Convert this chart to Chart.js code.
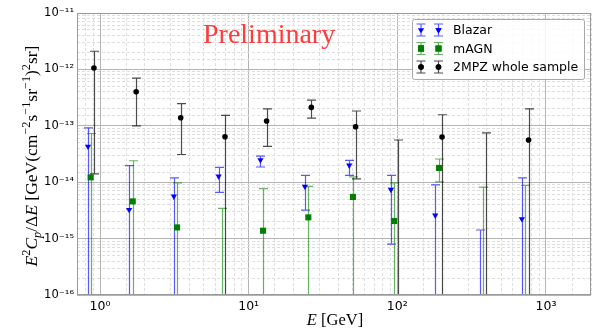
<!DOCTYPE html>
<html>
<head>
<meta charset="utf-8">
<script src="https://cdn.jsdelivr.net/npm/chart.js@4.4.1/dist/chart.umd.min.js"></script>
<style>
  html, body { margin: 0; padding: 0; background: #fff; }
  #wrap { width: 598px; height: 334px; }
</style>
</head>
<body>
<div id="wrap"><canvas id="spectrum" width="598" height="334"></canvas></div>
<script>
// energies (GeV), values and error bar limits; 0 as lower limit = bar runs off the bottom,
// null value = point not on the log axis (only the upper bar is seen)
const energyBlazar = [0.83, 1.57, 3.14, 6.28, 12.0, 23.9, 47.5, 90.6, 180, 361, 689];
const blazarVal = [4.3e-14, 3.25e-15, 5.6e-15, 1.27e-14, 2.48e-14, 8.4e-15, 1.99e-14, 7.4e-15, 2.58e-15, null, 2.23e-15];
const blazarHi = [9.2e-14, 1.96e-14, 1.19e-14, 1.83e-14, 2.9e-14, 1.32e-14, 2.44e-14, 1.32e-14, 9.0e-15, 1.42e-15, 1.19e-14];
const blazarLo = [0, 0, 0, 6.6e-15, 1.86e-14, 3.2e-15, 1.32e-14, 8.0e-16, 0, 0, 0];

const energyMagn = [0.865, 1.66, 3.30, 6.61, 12.5, 25.2, 50.3, 95.3, 191, 378, 724];
const magnVal = [1.22e-14, 4.57e-15, 1.58e-15, null, 1.38e-15, 2.38e-15, 5.47e-15, 2.05e-15, 1.79e-14, null, null];
const magnHi = [7.3e-14, 2.4e-14, 9.7e-15, 3.43e-15, 7.7e-15, 8.4e-15, 1.24e-14, 9.7e-15, 2.58e-14, 8.2e-15, 8.8e-15];
const magnLo = [0, 0, 0, 0, 0, 0, 0, 0, 1.01e-14, 0, 0];

const energy2mpz = [0.91, 1.75, 3.49, 6.93, 13.2, 26.4, 52.4, 100.5, 200, 398, 764];
const mpzVal = [1.06e-12, 4.0e-13, 1.39e-13, 6.4e-14, 1.22e-13, 2.12e-13, 9.6e-14, null, 6.3e-14, null, 5.6e-14];
const mpzHi = [2.1e-12, 7.0e-13, 2.47e-13, 1.53e-13, 2.0e-13, 2.86e-13, 1.83e-13, 5.6e-14, 1.57e-13, 7.5e-14, 2.0e-13];
const mpzLo = [1.4e-14, 1.0e-13, 3.1e-14, 0, 4.3e-14, 1.37e-13, 1.15e-14, 0, 0, 0, 0];

const seriesNames = ['Blazar', 'mAGN', '2MPZ whole sample'];

const SERIF = '"Liberation Serif", "DejaVu Serif", serif';
const SANS = '"DejaVu Sans", sans-serif';

const SUP = {'-': '\u207B', '0': '\u2070', '1': '\u00B9', '2': '\u00B2', '3': '\u00B3', '4': '\u2074',
             '5': '\u2075', '6': '\u2076', '7': '\u2077', '8': '\u2078', '9': '\u2079'};

function isDecade(v) {
    const l = Math.log10(v);
    return Math.abs(l - Math.round(l)) < 1e-6;
}

function decadeLabel(v) {
    if (!isDecade(v)) return '';
    const e = String(Math.round(Math.log10(v)));
    return '10' + e.split('').map(c => SUP[c]).join('');
}

function toPoints(xs, ys) {
    return xs.map((x, i) => ({x: x, y: ys[i]}));
}

// text with italic / super / subscript runs, centred on (0,0) of current transform
function drawRich(ctx, runs, size) {
    const fontOf = r => {
        const s = (r.sup || r.sub) ? size * 0.7 : size;
        return (r.it ? 'italic ' : '') + s + 'px ' + SERIF;
    };
    let total = 0;
    runs.forEach(r => { ctx.font = fontOf(r); total += ctx.measureText(r.t).width; });
    let x = -total / 2;
    ctx.textBaseline = 'alphabetic';
    ctx.textAlign = 'left';
    runs.forEach(r => {
        ctx.font = fontOf(r);
        const dy = r.sup ? -size * 0.38 : (r.sub ? size * 0.2 : 0);
        ctx.fillText(r.t, x, dy);
        x += ctx.measureText(r.t).width;
    });
}

const errorBars = {
    id: 'errorBars',
    beforeDatasetsDraw(chart) {
        const {ctx, chartArea: a} = chart;
        const x = chart.scales.x, y = chart.scales.y;
        ctx.save();
        ctx.beginPath();
        ctx.rect(a.left, a.top, a.right - a.left, a.bottom - a.top);
        ctx.clip();
        chart.data.datasets.forEach(ds => {
            ctx.strokeStyle = ds.barColor;
            ctx.lineWidth = 1.2;
            ds.energy.forEach((e, i) => {
                const px = Math.round(x.getPixelForValue(e)) + 0.5;
                const top = y.getPixelForValue(ds.hi[i]);
                const bot = ds.lo[i] > 0 ? y.getPixelForValue(ds.lo[i]) : a.bottom + 5;
                ctx.beginPath();
                ctx.moveTo(px, top);
                ctx.lineTo(px, bot);
                ctx.moveTo(px - 4.5, top);
                ctx.lineTo(px + 4.5, top);
                if (ds.lo[i] > 0) {
                    ctx.moveTo(px - 4.5, bot);
                    ctx.lineTo(px + 4.5, bot);
                }
                ctx.stroke();
            });
        });
        ctx.restore();
    }
};

const decorations = {
    id: 'decorations',
    afterDraw(chart) {
        const {ctx, chartArea: a} = chart;
        ctx.save();
        // frame
        ctx.strokeStyle = '#9a9a9a';
        ctx.lineWidth = 1;
        ctx.strokeRect(a.left + 0.5, a.top + 0.5, a.right - a.left - 1, a.bottom - a.top - 1);

        // watermark
        ctx.fillStyle = '#ff3c3c';
        ctx.font = '28px ' + SERIF;
        ctx.textAlign = 'left';
        ctx.textBaseline = 'alphabetic';
        ctx.fillText('Preliminary', 203, 43);

        // axis titles
        ctx.fillStyle = '#000';
        ctx.save();
        ctx.translate((a.left + a.right) / 2 + 1, 324.5);
        drawRich(ctx, [{t: 'E', it: true}, {t: ' [GeV]'}], 16.5);
        ctx.restore();

        ctx.save();
        ctx.translate(37, (a.top + a.bottom) / 2 + 2);
        ctx.rotate(-Math.PI / 2);
        drawRich(ctx, [
            {t: 'E', it: true}, {t: '2', sup: true}, {t: 'C', it: true}, {t: 'p', it: true, sub: true},
            {t: '/\u0394'}, {t: 'E', it: true}, {t: ' [GeV(cm'}, {t: '\u22122', sup: true},
            {t: 's'}, {t: '\u22121', sup: true}, {t: 'sr'}, {t: '\u22121', sup: true},
            {t: ')'}, {t: '2', sup: true}, {t: 'sr]'}
        ], 17.5);
        ctx.restore();

        // legend
        const lx = 412, ly = 19, lw = 172, lh = 60;
        ctx.fillStyle = 'rgba(255,255,255,0.85)';
        ctx.strokeStyle = '#a8a8a8';
        ctx.beginPath();
        ctx.roundRect(lx + 0.5, ly + 0.5, lw, lh, 2);
        ctx.fill();
        ctx.stroke();
        chart.data.datasets.forEach((ds, k) => {
            const cy = 30 + k * 18.5;
            [421, 438.5].forEach(cx => {
                ctx.strokeStyle = ds.barColor;
                ctx.lineWidth = 1.2;
                ctx.beginPath();
                ctx.moveTo(cx, cy - 6); ctx.lineTo(cx, cy + 6);
                ctx.moveTo(cx - 4.5, cy - 6); ctx.lineTo(cx + 4.5, cy - 6);
                ctx.moveTo(cx - 4.5, cy + 6); ctx.lineTo(cx + 4.5, cy + 6);
                ctx.stroke();
                Chart.helpers.drawPoint(ctx, {
                    pointStyle: ds.pointStyle, rotation: ds.rotation || 0, radius: ds.pointRadius,
                    borderWidth: 0
                }, cx, cy);
                ctx.fillStyle = ds.backgroundColor;
                ctx.fill();
            });
            ctx.fillStyle = '#000';
            ctx.font = '12.5px ' + SANS;
            ctx.textAlign = 'left';
            ctx.textBaseline = 'middle';
            ctx.fillText(ds.label, 453, cy + 1);
        });
        ctx.restore();
    }
};

function gridColor(c) {
    return isDecade(c.tick.value) ? '#b4b4b4' : '#dedede';
}
function gridDash(c) {
    return isDecade(c.tick.value) ? [] : [3, 2];
}

new Chart(document.getElementById('spectrum'), {
    type: 'scatter',
    data: {
        datasets: [
            {
                label: seriesNames[0],
                data: toPoints(energyBlazar, blazarVal),
                energy: energyBlazar, hi: blazarHi, lo: blazarLo,
                barColor: 'rgba(0,0,255,0.65)',
                backgroundColor: '#0000ff',
                pointStyle: 'triangle', rotation: 180, pointRadius: 3.6,
                borderWidth: 0
            },
            {
                label: seriesNames[1],
                data: toPoints(energyMagn, magnVal),
                energy: energyMagn, hi: magnHi, lo: magnLo,
                barColor: 'rgba(0,128,0,0.6)',
                backgroundColor: '#007f00',
                pointStyle: 'rect', pointRadius: 4.3,
                borderWidth: 0
            },
            {
                label: seriesNames[2],
                data: toPoints(energy2mpz, mpzVal),
                energy: energy2mpz, hi: mpzHi, lo: mpzLo,
                barColor: 'rgba(0,0,0,0.7)',
                backgroundColor: '#000000',
                pointStyle: 'circle', pointRadius: 2.8,
                borderWidth: 0
            }
        ]
    },
    options: {
        responsive: false,
        animation: false,
        devicePixelRatio: 1,
        layout: { padding: { top: 13, right: 7, left: 0, bottom: 0 } },
        plugins: {
            legend: { display: false },
            tooltip: { enabled: false }
        },
        scales: {
            x: {
                type: 'logarithmic',
                min: 0.7,
                max: 2010,
                afterFit(scale) { scale.height = 39; },
                grid: { color: gridColor, lineWidth: 1, drawTicks: false },
                border: { display: false, dash: gridDash },
                ticks: {
                    autoSkip: false, maxRotation: 0, padding: 4,
                    color: '#000', font: { family: SANS, size: 12.5 },
                    callback: v => decadeLabel(v)
                }
            },
            y: {
                type: 'logarithmic',
                min: 1e-16,
                max: 1e-11,
                afterFit(scale) { scale.width = 77; },
                grid: { color: gridColor, lineWidth: 1, drawTicks: false },
                border: { display: false, dash: gridDash },
                ticks: {
                    autoSkip: false, padding: 3,
                    color: '#000', font: { family: SANS, size: 11.5 },
                    callback: v => decadeLabel(v)
                }
            }
        }
    },
    plugins: [errorBars, decorations]
});
</script>
</body>
</html>
